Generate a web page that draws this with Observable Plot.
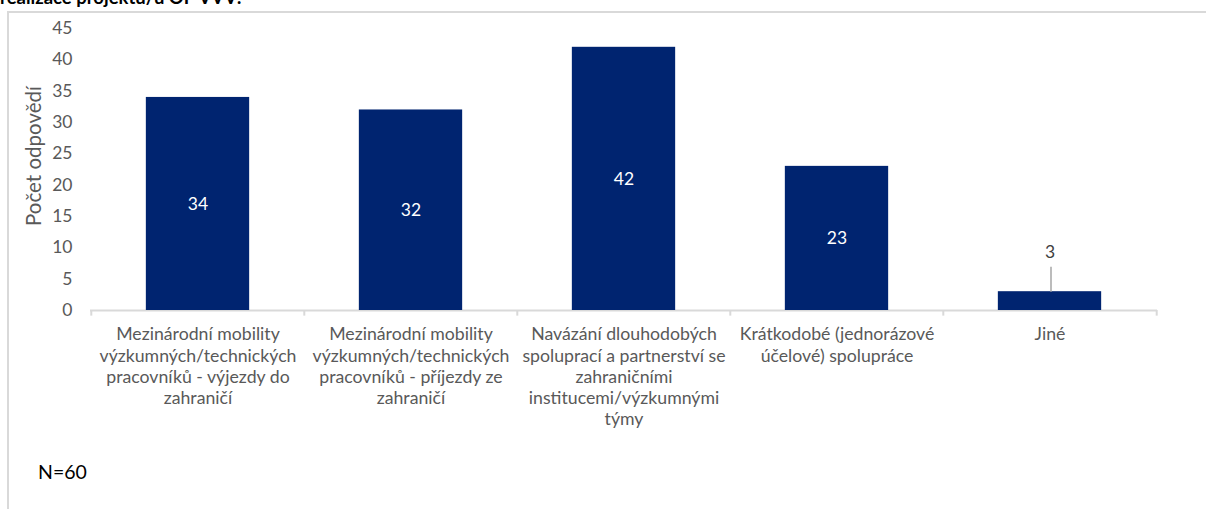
<!DOCTYPE html>
<html>
<head>
<meta charset="utf-8">
<script src="https://cdn.jsdelivr.net/npm/d3@7"></script>
<script src="https://cdn.jsdelivr.net/npm/@observablehq/plot@0.6"></script>
<style>
  html, body { margin: 0; padding: 0; background: #fff; }
  #wrap { position: relative; width: 1206px; height: 509px; overflow: hidden; font-family: Lato, "Noto Sans", sans-serif; }
  #title { position: absolute; left: 0; top: -14px; font-weight: bold; font-size: 18.5px; color: #000; white-space: nowrap; }
  #frame { position: absolute; left: 7px; top: 11px; width: 1300px; height: 600px; border-left: 2px solid #d9d9d9; border-top: 2px solid #d9d9d9; }
  #chart { position: absolute; left: 0; top: 0; }
  #ylabel { position: absolute; left: 33px; top: 156px; transform: translate(-50%, -50%) rotate(-90deg); font-size: 20.5px; color: #595959; white-space: nowrap; }
  #note { position: absolute; left: 38px; top: 460px; font-size: 19.5px; color: #000; }
</style>
</head>
<body>
<div id="wrap">
  <div id="title">realizace projektu/ů OP VVV:</div>
  <div id="frame"></div>
  <div id="chart"></div>
  <div id="ylabel"></div>
  <div id="note">N=60</div>
</div>
<script>
const categories = [
  "Mezinárodní mobility výzkumných/technických pracovníků - výjezdy do zahraničí",
  "Mezinárodní mobility výzkumných/technických pracovníků - příjezdy ze zahraničí",
  "Navázání dlouhodobých spoluprací a partnerství se zahraničními institucemi/výzkumnými týmy",
  "Krátkodobé (jednorázové účelové) spolupráce",
  "Jiné"
];
const tickLabels = [
  "Mezinárodní mobility\nvýzkumných/technických\npracovníků - výjezdy do\nzahraničí",
  "Mezinárodní mobility\nvýzkumných/technických\npracovníků - příjezdy ze\nzahraničí",
  "Navázání dlouhodobých\nspoluprací a partnerství se\nzahraničními\ninstitucemi/výzkumnými\ntýmy",
  "Krátkodobé (jednorázové\núčelové) spolupráce",
  "Jiné"
];
const values = [34, 32, 42, 23, 3];
const yTicks = [0, 5, 10, 15, 20, 25, 30, 35, 40, 45];
const yLabel = "Počet odpovědí";

document.getElementById("ylabel").textContent = yLabel;

const data = categories.map((c, i) => ({cat: c, tick: tickLabels[i], value: values[i]}));
const labelMap = new Map(data.map(d => [d.cat, d.tick]));

const W = 1206, H = 509, mL = 90, mR = 49, mT = 28, mB = 199;
const step = (W - mL - mR) / categories.length;
const barInset = step * 0.257;
const inside = data.filter(d => d.value >= 5);
const outside = data.filter(d => d.value < 5);

const chart = Plot.plot({
  width: W, height: H,
  marginLeft: mL, marginRight: mR, marginTop: mT, marginBottom: mB,
  style: {fontFamily: "Lato, 'Noto Sans', sans-serif", fontSize: "17px", background: "transparent"},
  x: {domain: categories, paddingInner: 0, paddingOuter: 0},
  y: {domain: [0, 45], ticks: yTicks},
  marks: [
    Plot.axisY({ticks: yTicks, tickSize: 0, tickPadding: 18, label: null, fill: "#595959", fontSize: 17.5}),
    Plot.axisX({tickSize: 0, tickPadding: 15, label: null, tickFormat: d => labelMap.get(d), fill: "#595959", fontSize: 17.7, lineHeight: 1.19}),
    Plot.ruleY([0], {stroke: "#d9d9d9", strokeWidth: 2}),
    Plot.ruleX(categories, {x: d => d, y1: 0, y2: -0.9, dx: -step / 2, stroke: "#d9d9d9", strokeWidth: 2}),
    Plot.ruleX(categories.slice(-1), {x: d => d, y1: 0, y2: -0.9, dx: step / 2, stroke: "#d9d9d9", strokeWidth: 2}),
    Plot.barY(data, {x: "cat", y: "value", fill: "#002470", insetLeft: barInset, insetRight: barInset}),
    Plot.text(inside, {x: "cat", y: d => d.value / 2, text: d => String(d.value), fill: "#fff", fontSize: 17.5}),
    Plot.link(outside, {x1: "cat", x2: "cat", y1: d => d.value, y2: d => d.value + 4, stroke: "#a6a6a6", strokeWidth: 1.5, dx: 1}),
    Plot.text(outside, {x: "cat", y: d => d.value + 6.3, text: d => String(d.value), fill: "#404040", fontSize: 17.5})
  ]
});
document.getElementById("chart").appendChild(chart);
</script>
</body>
</html>
